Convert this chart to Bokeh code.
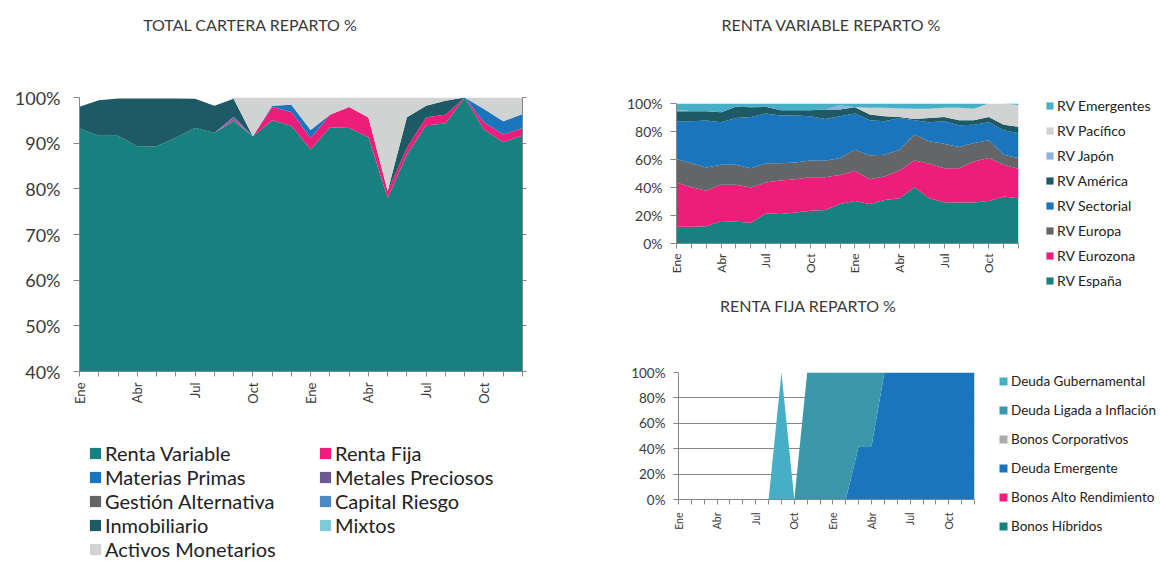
import math
from bokeh.plotting import figure
from bokeh.models import (ColumnDataSource, Legend, LegendItem, Label, FixedTicker,
                          LinearAxis, Range1d, PrintfTickFormatter)
from bokeh.layouts import row, column
from bokeh.embed import file_html
from bokeh.resources import INLINE

# ---------------- data ----------------
months = ["Ene", "Feb", "Mar", "Abr", "May", "Jun", "Jul", "Ago", "Sep", "Oct", "Nov", "Dic",
          "Ene", "Feb", "Mar", "Abr", "May", "Jun", "Jul", "Ago", "Sep", "Oct", "Nov", "Dic"]
shown_months = ["Ene", "Abr", "Jul", "Oct"]

# TOTAL CARTERA REPARTO %
total_names = ["Renta Variable", "Renta Fija", "Materias Primas", "Metales Preciosos",
               "Gestión Alternativa", "Capital Riesgo", "Inmobiliario", "Mixtos", "Activos Monetarios"]
renta_variable = [93.2, 91.6, 91.6, 89.3, 89.3, 91.2, 93.4, 92.2, 94.8, 91.5, 95.0, 93.8,
                  88.6, 93.5, 93.3, 91.3, 78.0, 87.5, 93.9, 94.3, 100.0, 93.0, 90.2, 91.7]
renta_fija = [0, 0, 0, 0, 0, 0, 0, 0, 0.4, 0, 2.9, 3.0,
              2.5, 2.7, 4.6, 4.3, 1.5, 1.5, 1.8, 1.9, 0, 1.6, 1.7, 1.6]
materias_primas = [0, 0, 0, 0, 0, 0, 0, 0, 0.3, 0, 0.3, 1.6,
                   1.8, 0, 0, 0, 0, 0, 0, 0, 0, 2.9, 2.9, 3.1]
metales_preciosos = [0, 0, 0, 0, 0, 0, 0, 0, 0.3, 0, 0, 0,
                     0, 0, 0, 0, 0, 0, 0, 0, 0, 0, 0, 0]
gestion_alternativa = [0] * 24
capital_riesgo = [0] * 24
inmobiliario = [4.8, 7.8, 8.2, 10.5, 10.5, 8.6, 6.3, 6.0, 3.9, 0, 0, 0,
                0, 0, 0, 0, 0, 6.7, 2.5, 3.1, 0, 0, 0, 0]
mixtos = [0] * 24
activos_monetarios = [0, 0, 0, 0, 0, 0, 0, 0, 0.3, 8.5, 1.8, 1.6,
                      7.1, 3.8, 2.1, 4.4, 20.5, 4.3, 1.8, 0.7, 0, 2.5, 5.2, 3.6]

# RENTA VARIABLE REPARTO %
rv_names = ["RV España", "RV Eurozona", "RV Europa", "RV Sectorial", "RV América",
            "RV Japón", "RV Pacífico", "RV Emergentes"]
rv_espana = [12.0, 12.0, 12.4, 16.0, 15.6, 14.8, 21.5, 21.1, 22.2, 23.4, 23.9, 28.2,
             30.4, 28.2, 31.1, 32.3, 40.2, 32.3, 29.4, 29.2, 29.2, 30.4, 33.5, 32.3]
rv_eurozona = [31.5, 28.2, 25.2, 25.9, 26.3, 25.2, 22.0, 23.9, 23.7, 24.0, 23.5, 20.8,
               21.5, 17.7, 16.7, 19.9, 19.1, 24.6, 24.4, 24.6, 29.4, 30.6, 22.7, 21.0]
rv_europa = [16.8, 17.2, 16.7, 14.3, 14.3, 13.8, 13.9, 12.4, 12.0, 11.9, 11.7, 12.0,
             15.1, 17.0, 15.6, 14.8, 18.5, 16.1, 17.5, 15.1, 13.2, 12.7, 7.2, 7.7]
rv_sectorial = [27.0, 29.9, 33.5, 30.4, 33.5, 36.6, 35.4, 34.0, 33.5, 31.6, 29.9, 29.9,
                25.8, 25.1, 23.9, 22.7, 10.2, 13.6, 16.0, 15.5, 13.1, 12.9, 17.5, 17.9]
rv_america = [7.2, 7.2, 6.7, 7.2, 7.9, 7.0, 4.8, 3.8, 3.8, 4.3, 6.7, 4.8,
              4.6, 4.1, 3.6, 0.7, 1.0, 3.1, 3.1, 3.6, 3.1, 3.8, 4.0, 4.4]
rv_japon = [1.0, 0, 0, 0, 0, 0, 0, 0, 0, 0, 0, 3.0,
            0, 0, 0, 0, 0, 0, 0, 0, 0, 0, 0, 0]
rv_pacifico = [0, 0, 0, 0, 0, 0, 0, 0, 0, 0, 0, 0,
               0, 4.8, 6.0, 6.0, 7.2, 6.5, 6.5, 8.9, 8.2, 9.6, 15.1, 15.5]
rv_emergentes = [4.5, 5.5, 5.5, 6.2, 2.4, 2.6, 2.4, 4.8, 4.8, 4.8, 4.3, 1.3,
                 2.6, 3.1, 3.1, 3.6, 3.8, 3.8, 3.1, 3.1, 3.8, 0, 0, 1.2]

# RENTA FIJA REPARTO %
rf_names = ["Bonos Híbridos", "Bonos Alto Rendimiento", "Deuda Emergente",
            "Bonos Corporativos", "Deuda Ligada a Inflación", "Deuda Gubernamental"]
bonos_hibridos = [0] * 24
bonos_alto_rend = [0] * 24
deuda_emergente = [0, 0, 0, 0, 0, 0, 0, 0, 0, 0, 0, 0,
                   0, 0, 42, 42, 100, 100, 100, 100, 100, 100, 100, 100]
bonos_corporativos = [0] * 24
deuda_ligada = [0, 0, 0, 0, 0, 0, 0, 0, 0, 0, 100, 100,
                100, 100, 58, 58, 0, 0, 0, 0, 0, 0, 0, 0]
deuda_gubernamental = [0, 0, 0, 0, 0, 0, 0, 0, 100, 0, 0, 0,
                       0, 0, 0, 0, 0, 0, 0, 0, 0, 0, 0, 0]

# ---------------- styles ----------------
FONT = "Lato"
AXIS_C = "#868686"
TEXT_C = "#3A3A3A"
total_colors = ["#17817F", "#ED1E79", "#1B75BC", "#6A5A93", "#646567",
                "#4D89C8", "#1D5A66", "#7DCBD9", "#D1D2D2"]
rv_colors = ["#17817F", "#ED1E79", "#646567", "#1B75BC", "#1D5A66",
             "#8CB3E0", "#D1D2D2", "#47AFC6"]
rf_colors = ["#17817F", "#ED1E79", "#1B75BC", "#ABABAB", "#3A98AA", "#45AFC6"]

x = list(range(len(months)))
overrides = {i: (m if m in shown_months else "") for i, m in enumerate(months)}


def make_fig(width, height, left, right, top, bottom, ymin, ymax, ystep,
             ylab_size, xlab_size, tick_y, stand_y, stand_x, grid=False):
    p = figure(width=width, height=height, min_border_left=left, min_border_right=right,
               min_border_top=top, min_border_bottom=bottom, title=None,
               x_range=Range1d(0, len(months) - 1), y_range=Range1d(ymin, ymax),
               output_backend="svg", toolbar_location=None, tools="")
    p.frame_align = False
    p.outline_line_color = None
    p.xgrid.visible = False
    yt = FixedTicker(ticks=list(range(ymin, ymax + 1, ystep)))
    p.yaxis.ticker = yt
    p.yaxis.formatter = PrintfTickFormatter(format="%d%%")
    if grid:
        p.ygrid.ticker = yt
        p.ygrid.grid_line_color = AXIS_C
        p.ygrid.grid_line_width = 1
    else:
        p.ygrid.visible = False
    p.xaxis.ticker = FixedTicker(ticks=x)
    p.xaxis.major_label_overrides = overrides
    p.xaxis.major_label_orientation = math.pi / 2
    for ax in (p.xaxis[0], p.yaxis[0]):
        ax.axis_line_color = AXIS_C
        ax.major_tick_line_color = AXIS_C
        ax.major_tick_in = 0
        ax.minor_tick_line_color = None
        ax.major_label_text_font = FONT
        ax.major_label_text_color = TEXT_C
    p.xaxis.major_tick_out = 5
    p.yaxis.major_tick_out = tick_y
    p.yaxis.major_label_text_font_size = ylab_size
    p.xaxis.major_label_text_font_size = xlab_size
    p.yaxis.major_label_standoff = stand_y
    p.xaxis.major_label_standoff = stand_x
    return p


def blank(width, height):
    p = figure(width=width, height=height, min_border=0, title=None,
               x_range=Range1d(1000, 1001), y_range=Range1d(1000, 1001),
               x_axis_location=None, y_axis_location=None,
               output_backend="svg", toolbar_location=None, tools="")
    p.frame_align = False
    p.outline_line_color = None
    p.grid.visible = False
    return p


def title_fig(width, height, text, cx, cy):
    p = blank(width, height)
    p.add_layout(Label(x=cx, y=cy, x_units="screen", y_units="screen", text=text,
                       text_font=FONT, text_font_size="16px", text_color="#3A3A3A",
                       text_align="center", text_baseline="middle"))
    return p


def make_legend(items, loc, font_size, glyph, label_h, spacing):
    return Legend(items=items, location=loc, orientation="vertical",
                  label_text_font=FONT, label_text_font_size=font_size,
                  label_text_color="#222222", glyph_width=glyph, glyph_height=glyph,
                  label_height=label_h, label_standoff=3, spacing=spacing,
                  padding=0, margin=0, border_line_color=None, background_fill_alpha=0)


# ---------------- TOTAL CARTERA ----------------
total_values = [renta_variable, renta_fija, materias_primas, metales_preciosos,
                gestion_alternativa, capital_riesgo, inmobiliario, mixtos, activos_monetarios]
src_t = ColumnDataSource(dict(x=x, **{n: v for n, v in zip(total_names, total_values)}))
t_title = title_fig(580, 83, "TOTAL CARTERA REPARTO %", 250, 59)
pt = make_fig(580, 328, 79, 58, 14, 40, 40, 100, 10, "18px", "13px", 6, 13, 6)
pt.varea_stack(stackers=total_names, x="x", color=total_colors, source=src_t)
rax = LinearAxis(ticker=FixedTicker(ticks=list(range(40, 101, 10))),
                 axis_line_color=AXIS_C, major_tick_line_color=AXIS_C,
                 major_tick_out=4, major_tick_in=0, minor_tick_line_color=None,
                 major_label_text_alpha=0, major_label_text_font_size="1px")
pt.add_layout(rax, "right")

t_leg = blank(580, 150)
rt = t_leg.varea_stack(stackers=total_names, x="x", color=total_colors, source=src_t)
col1 = [0, 2, 4, 6, 8]
col2 = [1, 3, 5, 7]
t_leg.add_layout(make_legend([LegendItem(label=total_names[i], renderers=[rt[i]]) for i in col1],
                             (88, 0), "20px", 14, 20, 0))
t_leg.add_layout(make_legend([LegendItem(label=total_names[i], renderers=[rt[i]]) for i in col2],
                             (318, 24), "20px", 14, 20, 0))

# ---------------- RENTA VARIABLE ----------------
rv_values = [rv_espana, rv_eurozona, rv_europa, rv_sectorial, rv_america, rv_japon,
             rv_pacifico, rv_emergentes]
src_v = ColumnDataSource(dict(x=x, **{n: v for n, v in zip(rv_names, rv_values)}))
v_title = title_fig(580, 93, "RENTA VARIABLE REPARTO %", 251, 69)
pv = make_fig(442, 199, 96, 4, 10, 49, 0, 100, 20, "14px", "12px", 6, 8, 5)
pv.varea_stack(stackers=rv_names, x="x", color=rv_colors, source=src_v)
v_leg = blank(138, 199)
rvl = v_leg.varea_stack(stackers=rv_names, x="x", color=rv_colors, source=src_v)
v_leg.add_layout(make_legend([LegendItem(label=rv_names[i], renderers=[rvl[i]])
                              for i in reversed(range(8))],
                             (23, 3), "14px", 9, 16, 8))

# ---------------- RENTA FIJA ----------------
rf_values = [bonos_hibridos, bonos_alto_rend, deuda_emergente, bonos_corporativos,
             deuda_ligada, deuda_gubernamental]
src_f = ColumnDataSource(dict(x=x, **{n: v for n, v in zip(rf_names, rf_values)}))
f_title = title_fig(580, 70, "RENTA FIJA REPARTO %", 228, 57)
pf = make_fig(398, 199, 98, 4, 10, 62, 0, 100, 20, "13.5px", "10.5px", 5, 8, 8, grid=True)
pf.varea_stack(stackers=rf_names, x="x", color=rf_colors, source=src_f)
f_leg = blank(182, 199)
rfl = f_leg.varea_stack(stackers=rf_names, x="x", color=rf_colors, source=src_f)
f_leg.add_layout(make_legend([LegendItem(label=rf_names[i], renderers=[rfl[i]])
                              for i in reversed(range(6))],
                             (20, 27), "13.5px", 10, 16, 13))

layout = row(column(t_title, pt, t_leg),
             column(v_title, row(pv, v_leg), f_title, row(pf, f_leg)))
open("out.html", "w").write(file_html(layout, INLINE))
